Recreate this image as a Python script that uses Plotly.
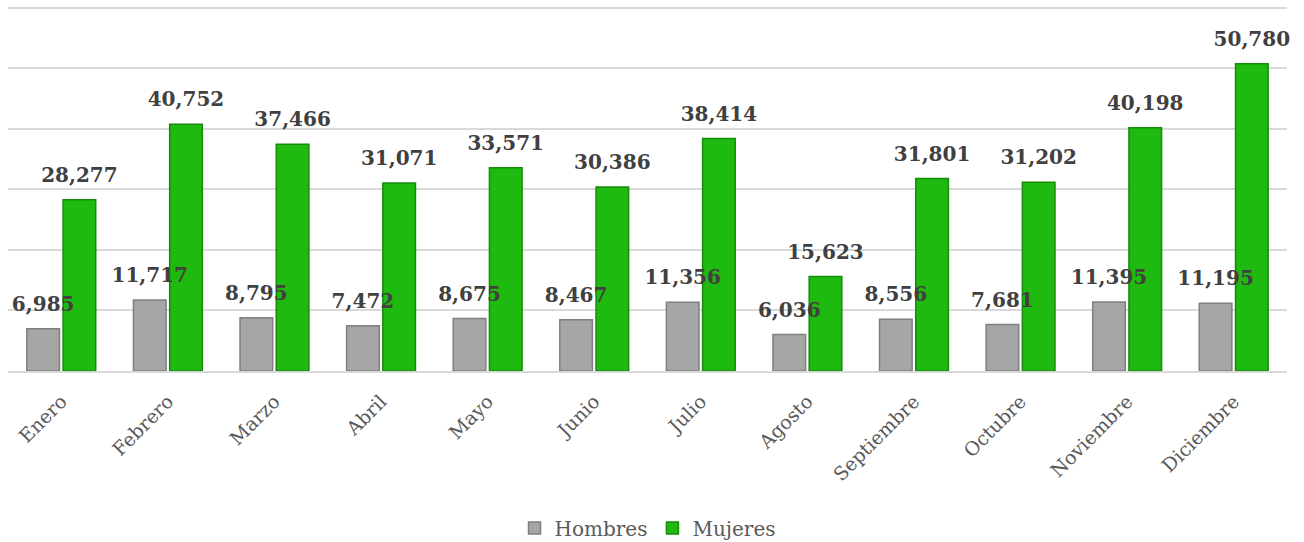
import plotly.graph_objects as go

months = ["Enero", "Febrero", "Marzo", "Abril", "Mayo", "Junio", "Julio",
          "Agosto", "Septiembre", "Octubre", "Noviembre", "Diciembre"]
hombres = [6985, 11717, 8795, 7472, 8675, 8467, 11356, 6036, 8556, 7681, 11395, 11195]
mujeres = [28277, 40752, 37466, 31071, 33571, 30386, 38414, 15623, 31801, 31202, 40198, 50780]

label_font = dict(family="DejaVu Serif", size=20, color="#404040", weight="bold")

fig = go.Figure()
fig.add_trace(go.Bar(
    x=months, y=hombres, name="Hombres", offsetgroup="h",
    marker=dict(color="#A6A6A6", line=dict(color="#7F7F7F", width=1.5)),
))
fig.add_trace(go.Bar(
    x=months, y=mujeres, name="Mujeres", offsetgroup="m",
    marker=dict(color="#1FBA0F", line=dict(color="#148C08", width=1.5)),
))
for vals, grp in ((hombres, "h"), (mujeres, "m")):
    fig.add_trace(go.Scatter(
        x=months, y=vals, offsetgroup=grp, mode="markers+text",
        text=[f"{v:,}" for v in vals], textposition="top center",
        textfont=label_font, marker=dict(size=19, opacity=0),
        showlegend=False, hoverinfo="skip", cliponaxis=False,
    ))

fig.update_layout(
    width=1304, height=542,
    margin=dict(l=8, r=17, t=6, b=171),
    paper_bgcolor="white", plot_bgcolor="white",
    barmode="group", bargap=0.32, bargroupgap=0.1,
    scattermode="group", scattergap=0.32,
    font=dict(family="DejaVu Serif", color="#595959"),
    showlegend=True,
    legend=dict(orientation="h", x=0.5, xanchor="center", yref="container",
                y=0.026, yanchor="middle", font=dict(size=20, color="#595959"),
                traceorder="normal", itemwidth=30),
    xaxis=dict(tickangle=-45, tickfont=dict(size=19, color="#595959"),
               showline=True, linecolor="#D9D9D9", linewidth=2, ticks="",
               ticklabelstandoff=10, automargin=False),
    yaxis=dict(range=[0, 60300], tickvals=[10000, 20000, 30000, 40000, 50000, 60000],
               showticklabels=False,
               showgrid=True, gridcolor="#D9D9D9", gridwidth=1.5,
               zeroline=False, automargin=False),
)

fig.write_html("out.html", config={"displayModeBar": False},
               post_script="document.body.style.margin='0';document.body.style.padding='0';")
